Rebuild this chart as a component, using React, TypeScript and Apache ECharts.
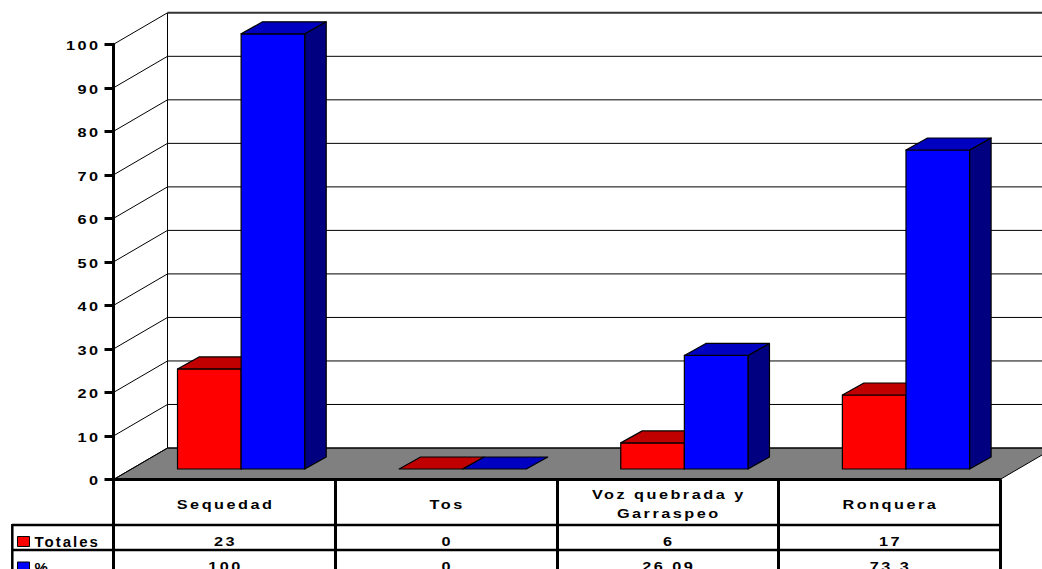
import React, { useEffect, useRef } from "react";
import * as echarts from "echarts";

// Chart data
const categories = ["Sequedad", "Tos", "Voz quebrada y\nGarraspeo", "Ronquera"];
const totales = [23, 0, 6, 17];
const porcentajes = [100, 0, 26.09, 73.3];
const yTicks = [0, 10, 20, 30, 40, 50, 60, 70, 80, 90, 100];
const seriesNames = ["Totales", "%"];

// 3D geometry (pixels)
const WALL_DEPTH = [54, -31.5];
const BAR_SHIFT = [16.8, -10.5];
const BAR_DEPTH = [21.5, -12];
const BAR_RATIO = 0.287;

// Wide, spaced label lettering
const FONT = 'Arial, "Liberation Sans", sans-serif';
const TEXT_SCALE = 1.25;
const LETTER_SPACING = 2;

const RED = { front: "#FF0000", top: "#C00000", side: "#800000" };
const BLUE = { front: "#0000FF", top: "#0000C0", side: "#000080" };

function label(text: string, x: number, y: number, align: string) {
  // compensate the trailing letter spacing so the glyphs sit where the anchor says
  const trail = LETTER_SPACING * TEXT_SCALE;
  const dx = align === "center" ? trail / 2 : align === "right" ? trail : 0;
  return {
    type: "text",
    x: x + dx,
    y,
    scaleX: TEXT_SCALE,
    style: {
      text,
      align,
      verticalAlign: "middle",
      lineHeight: 19,
      fontSize: 13,
      fontWeight: "bold",
      fontFamily: FONT,
      fill: "#000",
    },
  };
}

function wallRenderer(params: any, api: any) {
  const cs = params.coordSys;
  const v = api.value(1);
  const p = api.coord([0, v]);
  const left = cs.x;
  const right = cs.x + cs.width;
  const y = p[1];
  const [dx, dy] = WALL_DEPTH;
  const isTop = v === yTicks[yTicks.length - 1];
  const children: any[] = [];
  if (v === yTicks[0]) {
    const yMax = api.coord([0, yTicks[yTicks.length - 1]])[1];
    children.push({
      type: "polygon",
      shape: { points: [[left, y], [right, y], [right + dx, y + dy], [left + dx, y + dy]] },
      style: { fill: "#808080", stroke: "#000", lineWidth: 1 },
    });
    children.push({
      type: "line",
      shape: { x1: left + dx, y1: y + dy, x2: left + dx, y2: yMax + dy },
      style: { stroke: "#000", lineWidth: 1 },
    });
  }
  children.push({
    type: "line",
    shape: { x1: left, y1: y, x2: left + dx, y2: y + dy },
    style: { stroke: "#000", lineWidth: 1 },
  });
  children.push({
    type: "line",
    shape: { x1: left + dx, y1: y + dy, x2: right + dx, y2: y + dy },
    style: { stroke: isTop ? "#333" : "#000", lineWidth: isTop ? 2 : 1 },
  });
  // value-axis tick label
  children.push(label(String(v), left - 15.5, y + 1.5, "right"));
  return { type: "group", children };
}

function headerRenderer(params: any, api: any) {
  const cs = params.coordSys;
  const p = api.coord([api.value(0), 0]);
  return label(categories[params.dataIndex], p[0], cs.y + cs.height + 25, "center");
}

function barRenderer(side: "left" | "right", colors: any, rowOffset: number) {
  return (params: any, api: any) => {
    const cs = params.coordSys;
    const idx = api.value(0);
    const v = api.value(1);
    const base = api.coord([idx, 0]);
    const top = api.coord([idx, v]);
    const w = api.size([1, 0])[0] * BAR_RATIO;
    const cx = base[0] + BAR_SHIFT[0];
    const x0 = side === "left" ? cx - w : cx;
    const x1 = x0 + w;
    const yb = base[1] + BAR_SHIFT[1];
    const yt = top[1] + BAR_SHIFT[1];
    const [bx, by] = BAR_DEPTH;
    const edge = { stroke: "#000", lineWidth: 1.2, lineJoin: "round" };
    const children: any[] = [];
    if (yb - yt > 0.5) {
      children.push({
        type: "polygon",
        shape: { points: [[x1, yt], [x1 + bx, yt + by], [x1 + bx, yb + by], [x1, yb]] },
        style: { fill: colors.side, ...edge },
      });
      children.push({
        type: "rect",
        shape: { x: x0, y: yt, width: w, height: yb - yt },
        style: { fill: colors.front, ...edge },
      });
    }
    children.push({
      type: "polygon",
      shape: { points: [[x0, yt], [x1, yt], [x1 + bx, yt + by], [x0 + bx, yt + by]] },
      style: { fill: colors.top, ...edge },
    });
    // value cell in the data table below the axis
    children.push(label(String(v), base[0], cs.y + cs.height + rowOffset, "center"));
    return { type: "group", children };
  };
}

export default function App() {
  const ref = useRef<HTMLDivElement>(null);

  useEffect(() => {
    if (!ref.current) return;
    const chart = echarts.init(ref.current, null, { renderer: "svg" });
    const tableTop = 479.5;
    const tableRight = 1000;
    chart.setOption({
      animation: false,
      backgroundColor: "#fff",
      textStyle: { fontFamily: FONT, fontWeight: "bold", fontSize: 13, color: "#000" },
      grid: { left: 113.5, right: 1042 - tableRight, top: 44.3, bottom: 569 - tableTop },
      legend: {
        orient: "vertical",
        left: 17,
        top: 534,
        height: 60,
        padding: 0,
        itemWidth: 12,
        itemHeight: 10,
        itemGap: 10.5,
        icon: "rect",
        data: seriesNames,
        itemStyle: { borderColor: "#000", borderWidth: 1 },
        textStyle: { fontSize: 15, fontWeight: "bold", color: "#000", fontFamily: FONT },
      },
      xAxis: {
        type: "category",
        data: categories,
        boundaryGap: true,
        z: 10,
        axisLine: { show: true, lineStyle: { color: "#000", width: 3 } },
        axisTick: { show: true, interval: 0, length: 100, lineStyle: { color: "#000", width: 3 } },
        axisLabel: { show: false },
        splitLine: { show: false },
      },
      yAxis: {
        type: "value",
        min: 0,
        max: 100,
        interval: 10,
        z: 10,
        axisLine: { show: true, lineStyle: { color: "#000", width: 3 } },
        axisTick: { show: true, length: 9, lineStyle: { color: "#000", width: 3 } },
        axisLabel: { show: false },
        splitLine: { show: false },
      },
      graphic: [
        { type: "line", shape: { x1: 12, y1: 525, x2: tableRight, y2: 525 }, style: { stroke: "#000", lineWidth: 2.5 } },
        { type: "line", shape: { x1: 12, y1: 550, x2: tableRight, y2: 550 }, style: { stroke: "#000", lineWidth: 2.5 } },
        { type: "line", shape: { x1: 12.3, y1: 524, x2: 12.3, y2: 580 }, style: { stroke: "#000", lineWidth: 2.5 } },
      ],
      series: [
        {
          type: "custom",
          name: "walls",
          z: 1,
          silent: true,
          renderItem: wallRenderer,
          data: yTicks.map((v) => [0, v]),
          encode: { x: 0, y: 1 },
        },
        {
          type: "custom",
          name: "header",
          z: 4,
          silent: true,
          renderItem: headerRenderer,
          data: categories.map((_, i) => [i, 0]),
          encode: { x: 0, y: 1 },
        },
        {
          type: "custom",
          name: seriesNames[0],
          z: 2,
          itemStyle: { color: RED.front, borderColor: "#000", borderWidth: 1 },
          renderItem: barRenderer("left", RED, 62),
          data: totales.map((v, i) => [i, v]),
          encode: { x: 0, y: 1 },
        },
        {
          type: "custom",
          name: seriesNames[1],
          z: 3,
          itemStyle: { color: BLUE.front, borderColor: "#000", borderWidth: 1 },
          renderItem: barRenderer("right", BLUE, 87),
          data: porcentajes.map((v, i) => [i, v]),
          encode: { x: 0, y: 1 },
        },
      ],
    });
    return () => chart.dispose();
  }, []);

  return (
    <div
      ref={ref}
      style={{
        position: "fixed",
        left: 0,
        top: 0,
        width: 1042,
        height: 569,
        letterSpacing: `${LETTER_SPACING}px`,
        background: "#fff",
      }}
    />
  );
}
